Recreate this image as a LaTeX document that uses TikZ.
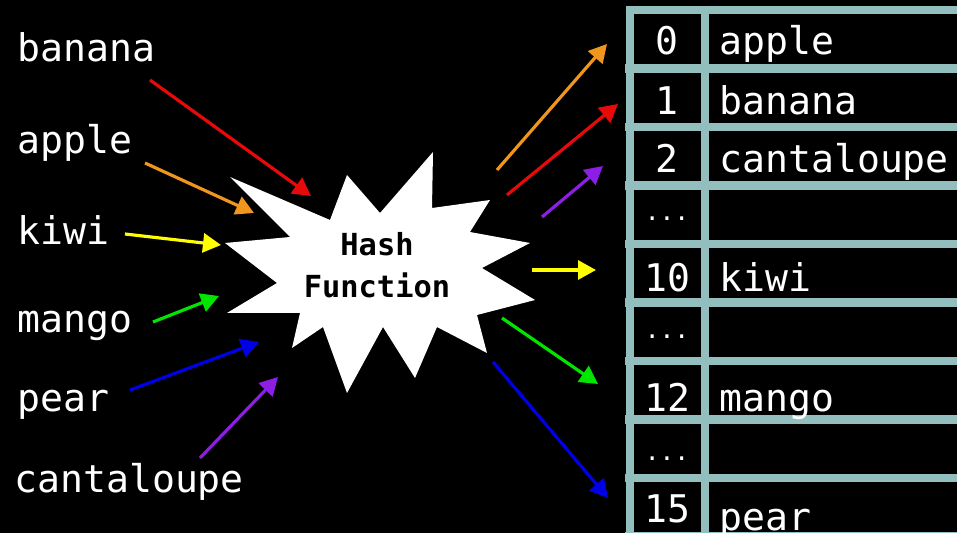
\documentclass[tikz,border=0pt]{standalone}
\usepackage{fontspec}
\setmonofont{DejaVu Sans Mono}
\usetikzlibrary{arrows.meta}
\definecolor{slotline}{RGB}{146,190,190}
\definecolor{hred}{RGB}{232,10,10}
\definecolor{horange}{RGB}{240,150,30}
\definecolor{hyellow}{RGB}{255,255,0}
\definecolor{hgreen}{RGB}{0,230,0}
\definecolor{hblue}{RGB}{0,0,230}
\definecolor{hpurple}{RGB}{140,30,230}

\begin{document}
\begin{tikzpicture}[x=0.02cm,y=-0.02cm,
        key/.style={anchor=base west,inner sep=0,text=white,font=\ttfamily\fontsize{21.7}{26}\selectfont},
        slotnum/.style={anchor=base,inner sep=0,text=white,font=\ttfamily\fontsize{21.7}{26}\selectfont},
        skip/.style={anchor=base,inner sep=0,text=white,font=\ttfamily\fontsize{14}{16}\selectfont},
        hashed/.style={-{Triangle[length=3.6mm,width=3.8mm]},line width=1.8pt},
        grid/.style={draw=slotline,line width=5.1pt}]
    \useasboundingbox (0,0) rectangle (957,533);
    \fill[black] (0,0) rectangle (957,533);

    \node[key] (banana) at (17,62) {banana};
    \node[key] (apple) at (17,154) {apple};
    \node[key] (kiwi) at (17,245) {kiwi};
    \node[key] (mango) at (17,333) {mango};
    \node[key] (pear) at (17,412) {pear};
    \node[key] (cantaloupe) at (14,493) {cantaloupe};

    \fill[white] (230,177) -- (330,220) -- (347,175) -- (380,213) -- (433,152) -- (432,208)
        -- (490,200) -- (470,232) -- (530,243) -- (482,268) -- (535,300) -- (477,315)
        -- (487,353) -- (437,327) -- (415,378) -- (383,327) -- (347,393) -- (323,327)
        -- (292,348) -- (300,313) -- (227,313) -- (277,283) -- (225,243) -- (290,237) -- cycle;
    \node[align=center,inner sep=0,font=\ttfamily\bfseries\fontsize{17.3}{23.8}\selectfont] (hash) at (377,265) {Hash\\Function};

    \begin{scope}
        \clip (0,0) rectangle (957,533);
        \draw[grid] (630,545) -- (630,10) -- (990,10);
        \draw[grid] (705,10) -- (705,545);
        \draw[grid] (625,68.5) -- (990,68.5) (625,127) -- (990,127) (625,185.5) -- (990,185.5)
            (625,244) -- (990,244) (625,302.5) -- (990,302.5) (625,361) -- (990,361)
            (625,419.5) -- (990,419.5) (625,478) -- (990,478) (625,536.5) -- (990,536.5);
    \end{scope}

    \node[slotnum] (i0) at (667,55) {0};
    \node[slotnum] (i1) at (667,115) {1};
    \node[slotnum] (i2) at (667,173) {2};
    \node[skip] (g1) at (667,221) {...};
    \node[slotnum] (i10) at (667,292) {10};
    \node[skip] (g2) at (667,339) {...};
    \node[slotnum] (i12) at (667,412) {12};
    \node[skip] (g3) at (667,460) {...};
    \node[slotnum] (i15) at (667,522) {15};
    \node[key] (s0) at (719,55) {apple};
    \node[key] (s1) at (719,115) {banana};
    \node[key] (s2) at (719,173) {cantaloupe};
    \node[key] (s10) at (719,292) {kiwi};
    \node[key] (s12) at (719,412) {mango};
    \node[key] (s15) at (719,530) {pear};

    \coordinate (banana-in) at (150,80);
    \coordinate (banana-hit) at (311,196);
    \coordinate (apple-in) at (145,163);
    \coordinate (apple-hit) at (254,213);
    \coordinate (kiwi-in) at (125,234);
    \coordinate (kiwi-hit) at (221,245);
    \coordinate (mango-in) at (153,322);
    \coordinate (mango-hit) at (219,296);
    \coordinate (pear-in) at (130,390);
    \coordinate (pear-hit) at (259,342);
    \coordinate (cantaloupe-in) at (200,458);
    \coordinate (cantaloupe-hit) at (278,377);
    \coordinate (apple-out) at (497,170);
    \coordinate (apple-slot) at (607,44);
    \coordinate (banana-out) at (507,195);
    \coordinate (banana-slot) at (618,104);
    \coordinate (cantaloupe-out) at (542,217);
    \coordinate (cantaloupe-slot) at (603,166);
    \coordinate (kiwi-out) at (532,270);
    \coordinate (kiwi-slot) at (596,270);
    \coordinate (mango-out) at (502,318);
    \coordinate (mango-slot) at (598,384);
    \coordinate (pear-out) at (493,362);
    \coordinate (pear-slot) at (608,498);

    \draw[hashed,hred] (banana-in) -- (banana-hit);
    \draw[hashed,horange] (apple-in) -- (apple-hit);
    \draw[hashed,hyellow] (kiwi-in) -- (kiwi-hit);
    \draw[hashed,hgreen] (mango-in) -- (mango-hit);
    \draw[hashed,hblue] (pear-in) -- (pear-hit);
    \draw[hashed,hpurple] (cantaloupe-in) -- (cantaloupe-hit);
    \draw[hashed,horange] (apple-out) -- (apple-slot);
    \draw[hashed,hred] (banana-out) -- (banana-slot);
    \draw[hashed,hpurple] (cantaloupe-out) -- (cantaloupe-slot);
    \draw[hashed,hyellow] (kiwi-out) -- (kiwi-slot);
    \draw[hashed,hgreen] (mango-out) -- (mango-slot);
    \draw[hashed,hblue] (pear-out) -- (pear-slot);
\end{tikzpicture}
\end{document}
